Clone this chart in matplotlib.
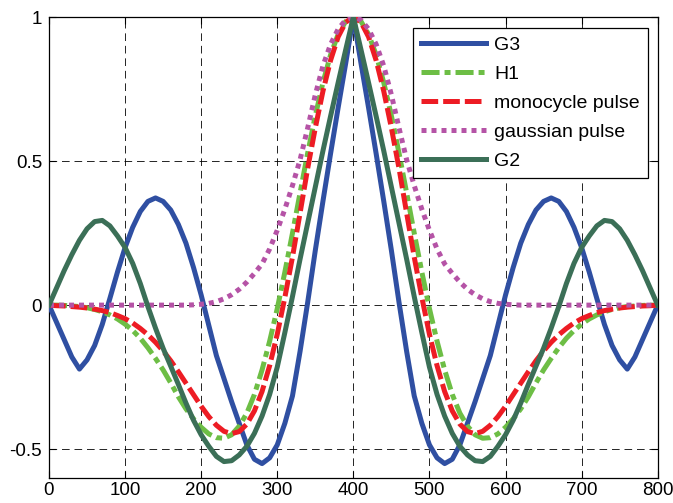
import matplotlib
matplotlib.use('Agg')
import matplotlib.pyplot as plt

plt.rcParams['font.family'] = ['Liberation Sans', 'DejaVu Sans']
plt.rcParams['lines.scale_dashes'] = False

# sample positions
x = list(range(0, 801, 10))

g3 = [0.0, -0.06, -0.12, -0.18, -0.222, -0.19, -0.14, -0.067, 0.023, 0.115,
      0.2, 0.27, 0.325, 0.36, 0.372, 0.36, 0.33, 0.28, 0.215, 0.13,
      0.035, -0.07, -0.175, -0.255, -0.335, -0.41, -0.485, -0.535, -0.55, -0.53,
      -0.485, -0.41, -0.315, -0.16, 0.01, 0.19, 0.36, 0.525, 0.685, 0.84,
      1.0,
      0.84, 0.685, 0.525, 0.36, 0.19, 0.01, -0.16, -0.315, -0.41, -0.485,
      -0.53, -0.55, -0.535, -0.485, -0.41, -0.335, -0.255, -0.175, -0.07, 0.035,
      0.13, 0.215, 0.28, 0.33, 0.36, 0.372, 0.36, 0.325, 0.27, 0.2,
      0.115, 0.023, -0.067, -0.14, -0.19, -0.222, -0.18, -0.12, -0.06, 0.0]

h1 = [0.0, 0.0, -0.001, -0.003, -0.005, -0.009, -0.015, -0.023, -0.034, -0.048,
      -0.066, -0.088, -0.115, -0.148, -0.185, -0.225, -0.27, -0.318, -0.36, -0.395,
      -0.424, -0.447, -0.46, -0.462, -0.45, -0.42, -0.375, -0.31, -0.225, -0.125,
      -0.012, 0.115, 0.25, 0.39, 0.528, 0.657, 0.772, 0.868, 0.94, 0.985,
      1.0,
      0.985, 0.94, 0.868, 0.772, 0.657, 0.528, 0.39, 0.25, 0.115, -0.012,
      -0.125, -0.225, -0.31, -0.375, -0.42, -0.45, -0.462, -0.46, -0.447, -0.424,
      -0.395, -0.36, -0.318, -0.27, -0.225, -0.185, -0.148, -0.115, -0.088, -0.066,
      -0.048, -0.034, -0.023, -0.015, -0.009, -0.005, -0.003, -0.001, 0.0, 0.0]

mono = [0.0, -0.002, -0.003, -0.005, -0.007, -0.01, -0.014, -0.019, -0.026, -0.036,
        -0.047, -0.062, -0.081, -0.103, -0.129, -0.159, -0.193, -0.231, -0.271, -0.311,
        -0.351, -0.387, -0.417, -0.438, -0.446, -0.439, -0.413, -0.367, -0.3, -0.21,
        -0.101, 0.027, 0.167, 0.32, 0.475, 0.615, 0.742, 0.849, 0.931, 0.982,
        1.0,
        0.982, 0.931, 0.849, 0.742, 0.615, 0.475, 0.32, 0.167, 0.027, -0.101,
        -0.21, -0.3, -0.367, -0.413, -0.439, -0.446, -0.438, -0.417, -0.387, -0.351,
        -0.311, -0.271, -0.231, -0.193, -0.159, -0.129, -0.103, -0.081, -0.062, -0.047,
        -0.036, -0.026, -0.019, -0.014, -0.01, -0.007, -0.005, -0.003, -0.002, 0.0]

gauss = [0.0, 0.0, 0.0, 0.0, 0.0, 0.0, 0.0, 0.0, 0.0, 0.0,
         0.0, 0.0, 0.0, 0.0, 0.0, 0.0, 0.0, 0.0, 0.0, 0.001,
         0.003, 0.006, 0.012, 0.022, 0.036, 0.055, 0.08, 0.11, 0.143, 0.195,
         0.26, 0.333, 0.415, 0.505, 0.615, 0.73, 0.83, 0.905, 0.958, 0.99,
         1.0,
         0.99, 0.958, 0.905, 0.83, 0.73, 0.615, 0.505, 0.415, 0.333, 0.26,
         0.195, 0.143, 0.11, 0.08, 0.055, 0.036, 0.022, 0.012, 0.006, 0.003,
         0.001, 0.0, 0.0, 0.0, 0.0, 0.0, 0.0, 0.0, 0.0, 0.0,
         0.0, 0.0, 0.0, 0.0, 0.0, 0.0, 0.0, 0.0, 0.0, 0.0]

g2 = [0.0, 0.06, 0.12, 0.175, 0.225, 0.265, 0.29, 0.294, 0.275, 0.24,
      0.2, 0.145, 0.075, -0.005, -0.08, -0.15, -0.212, -0.275, -0.34, -0.4,
      -0.45, -0.49, -0.525, -0.543, -0.54, -0.52, -0.49, -0.445, -0.385, -0.31,
      -0.215, -0.095, 0.03, 0.16, 0.285, 0.41, 0.535, 0.655, 0.772, 0.887,
      1.0,
      0.887, 0.772, 0.655, 0.535, 0.41, 0.285, 0.16, 0.03, -0.095, -0.215,
      -0.31, -0.385, -0.445, -0.49, -0.52, -0.54, -0.543, -0.525, -0.49, -0.45,
      -0.4, -0.34, -0.275, -0.212, -0.15, -0.08, -0.005, 0.075, 0.145, 0.2,
      0.24, 0.275, 0.294, 0.29, 0.265, 0.225, 0.175, 0.12, 0.06, 0.0]

series_labels = ['G3', 'H1', 'monocycle pulse', 'gaussian pulse', 'G2']
x_ticks = [0, 100, 200, 300, 400, 500, 600, 700, 800]
y_ticks = [-0.5, 0, 0.5, 1]
y_tick_labels = ['-0.5', '0', '0.5', '1']

fig = plt.figure(figsize=(6.73, 5.03), dpi=100)
ax = fig.add_axes([49 / 673, 1 - 478 / 503, (657.7 - 49) / 673, (478 - 17) / 503])

lw = 3.6
ax.plot(x, g3, color='#2f4fa2', lw=lw, label=series_labels[0], zorder=3)
ax.plot(x, h1, color='#6dbe45', lw=lw, linestyle=(0, (13, 3.6, 4.3, 3.6)),
        label=series_labels[1], zorder=3)
ax.plot(x, mono, color='#ed1c24', lw=lw, linestyle=(0, (12, 3.6)),
        label=series_labels[2], zorder=3)
ax.plot(x, gauss, color='#b553a6', lw=lw, linestyle=(0, (3.6, 3.6)),
        label=series_labels[3], zorder=3)
ax.plot(x, g2, color='#3b6f57', lw=lw, label=series_labels[4], zorder=3)

ax.set_xlim(0, 800)
ax.set_ylim(-0.6, 1)
ax.set_xticks(x_ticks)
ax.set_xticklabels([str(t) for t in x_ticks])
ax.set_yticks(y_ticks)
ax.set_yticklabels(y_tick_labels)
ax.tick_params(direction='in', top=True, right=True, length=5, width=0.8,
               labelsize=13.5, colors='black')
ax.tick_params(axis='x', pad=3)
ax.tick_params(axis='y', pad=5)
ax.grid(True, color='black', lw=0.6, linestyle=(0, (5.5, 3.5)), zorder=1)
for s in ax.spines.values():
    s.set_linewidth(0.9)
    s.set_color('black')

leg = ax.legend(loc='upper right', bbox_to_anchor=(0.984, 0.9755), borderaxespad=0,
                fontsize=14, fancybox=False, framealpha=1, edgecolor='black',
                handlelength=3.35, handletextpad=0.4, labelspacing=0.58,
                borderpad=0.42)
leg.get_frame().set_linewidth(0.9)
leg.set_zorder(5)

fig.savefig('out.png', dpi=100)
